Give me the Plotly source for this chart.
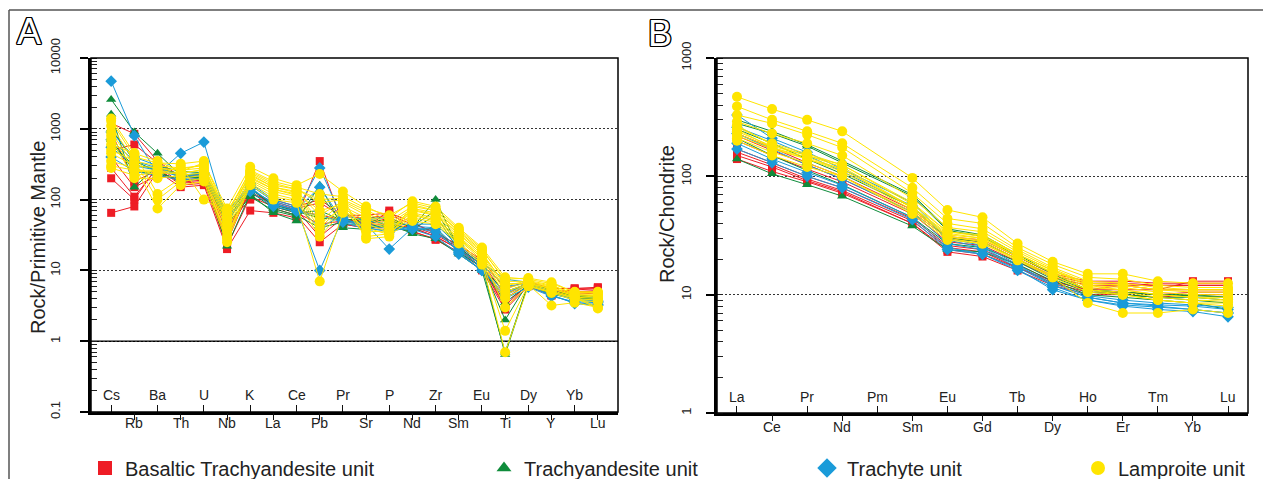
import math
import plotly.graph_objects as go

# ---------------- data ----------------
pm_elements = ["Cs", "Rb", "Ba", "Th", "U", "Nb", "K", "La", "Ce", "Pb", "Pr",
               "Sr", "P", "Nd", "Zr", "Sm", "Eu", "Ti", "Dy", "Y", "Yb", "Lu"]
ree_elements = ["La", "Ce", "Pr", "Nd", "Pm", "Sm", "Eu", "Gd", "Tb", "Dy",
                "Ho", "Er", "Tm", "Yb", "Lu"]

group_names = ["Basaltic Trachyandesite unit", "Trachyandesite unit",
               "Trachyte unit", "Lamproite unit"]

# Primitive-mantle normalised (panel A)
pm_basaltic = [
    [65, 80, 250, 150, 160, 20, 70, 65, 55, 350, 45, 40, 70, 35, 28, 18, 11, 3.0, 6.0, 4.5, 5.5, 5.8],
    [200, 100, 300, 170, 180, 22, 110, 80, 65, 45, 50, 45, 55, 40, 30, 20, 12, 4.0, 6.5, 5.0, 5.3, 5.5],
    [280, 110, 280, 160, 170, 30, 130, 85, 70, 60, 52, 50, 50, 42, 32, 21, 12, 3.5, 6.2, 4.8, 5.0, 5.2],
    [400, 150, 220, 190, 200, 35, 140, 90, 72, 30, 55, 45, 45, 40, 30, 20, 11, 3.2, 6.3, 4.6, 4.8, 5.0],
    [500, 600, 330, 200, 220, 40, 120, 95, 75, 90, 58, 55, 60, 45, 35, 22, 13, 4.5, 6.8, 5.2, 5.0, 5.0],
    [900, 180, 260, 175, 190, 25, 150, 75, 60, 25, 45, 40, 40, 36, 27, 18, 10, 2.8, 6.0, 4.4, 4.6, 4.8],
    [1200, 850, 350, 210, 230, 45, 100, 100, 80, 100, 60, 60, 65, 48, 33, 23, 14, 5.5, 7.0, 5.5, 5.6, 5.6],
]
pm_trachyandesite = [
    [2600, 900, 450, 220, 200, 22, 120, 65, 50, 160, 40, 38, 45, 33, 28, 17, 10, 0.7, 6.5, 5.0, 4.5, 4.3],
    [1600, 150, 300, 250, 240, 60, 150, 80, 65, 70, 50, 55, 55, 40, 100, 20, 12, 2.0, 6.8, 5.2, 4.3, 4.2],
    [1000, 350, 250, 180, 200, 50, 130, 75, 60, 40, 48, 50, 45, 38, 60, 19, 11, 5.0, 6.5, 4.8, 4.2, 4.0],
    [700, 250, 230, 200, 210, 45, 110, 70, 58, 120, 45, 45, 40, 36, 40, 18, 11, 3.5, 6.2, 4.6, 4.0, 3.9],
    [600, 300, 280, 230, 220, 55, 140, 85, 68, 55, 52, 52, 50, 42, 70, 21, 12, 0.65, 6.4, 4.7, 4.1, 4.0],
]
pm_trachyte = [
    [4700, 800, 230, 450, 650, 50, 140, 90, 70, 280, 52, 45, 20, 40, 35, 19, 11, 4.0, 5.8, 4.3, 3.6, 3.5],
    [900, 400, 300, 200, 220, 60, 160, 95, 75, 10, 55, 40, 35, 42, 40, 20, 12, 6.0, 6.5, 4.8, 3.8, 3.6],
    [700, 350, 280, 220, 240, 65, 170, 100, 80, 40, 60, 50, 45, 45, 45, 22, 13, 7.5, 6.8, 5.0, 3.9, 3.7],
    [550, 300, 260, 210, 230, 70, 150, 85, 72, 150, 50, 42, 40, 40, 38, 18, 10, 5.0, 6.0, 4.5, 3.4, 3.2],
    [400, 250, 220, 190, 200, 55, 130, 80, 68, 60, 48, 38, 38, 38, 30, 17, 10, 4.5, 6.2, 4.4, 3.5, 3.3],
]
pm_lamproite = [
    [1400, 450, 350, 250, 330, 75, 290, 200, 160, 230, 130, 80, 55, 95, 80, 40, 21, 8.0, 7.5, 6.5, 5.0, 5.0],
    [1300, 400, 330, 320, 350, 60, 260, 180, 150, 120, 110, 75, 60, 90, 75, 38, 20, 7.0, 7.0, 6.0, 4.8, 4.8],
    [1100, 350, 300, 280, 300, 50, 240, 160, 140, 90, 100, 70, 50, 80, 70, 35, 18, 6.0, 7.2, 6.2, 4.6, 4.6],
    [900, 300, 280, 260, 280, 45, 220, 150, 130, 60, 95, 65, 45, 75, 65, 33, 17, 5.5, 6.8, 5.8, 4.5, 4.4],
    [800, 250, 250, 240, 260, 40, 200, 140, 120, 50, 90, 60, 42, 70, 60, 30, 16, 5.0, 6.5, 5.5, 4.4, 4.2],
    [700, 200, 200, 220, 240, 35, 190, 130, 110, 40, 80, 55, 40, 65, 55, 28, 15, 4.5, 6.4, 5.2, 4.2, 4.0],
    [600, 450, 120, 200, 220, 30, 180, 120, 100, 35, 75, 50, 38, 60, 50, 27, 14, 1.4, 6.2, 5.0, 4.0, 3.8],
    [500, 350, 100, 180, 200, 28, 170, 110, 95, 30, 70, 45, 35, 55, 48, 25, 13, 0.7, 6.0, 4.8, 3.8, 3.6],
    [450, 300, 75, 160, 180, 25, 160, 100, 90, 7, 65, 40, 32, 50, 45, 24, 12, 4.0, 6.3, 3.2, 3.5, 3.0],
    [350, 280, 220, 300, 100, 65, 250, 170, 140, 100, 105, 28, 30, 85, 70, 36, 19, 7.5, 7.8, 6.8, 4.9, 4.9],
    [300, 260, 260, 270, 310, 55, 230, 150, 125, 70, 85, 35, 36, 72, 62, 32, 17, 6.5, 6.6, 5.6, 4.3, 3.0],
    [280, 220, 240, 230, 270, 70, 210, 140, 115, 45, 78, 30, 33, 62, 52, 29, 15, 3.0, 6.0, 5.0, 4.1, 2.9],
]

# Chondrite normalised REE (panel B); Pm not analysed
ree_basaltic = [
    [140, 110, 90, 72, None, 40, 24, 22, 17, 13, 11, 12, 11, 13, 13],
    [200, 150, 115, 90, None, 48, 28, 26, 19, 14, 12, 12, 12, 12, 12],
    [170, 130, 100, 80, None, 44, 26, 24, 18, 13, 11, 11, 11, 11, 11],
    [160, 125, 95, 76, None, 42, 25, 23, 17, 12.5, 10.5, 10.5, 10, 10.5, 10.5],
    [220, 165, 125, 95, None, 50, 30, 28, 20, 14.5, 12.5, 12.5, 12, 12, 12],
    [150, 120, 92, 74, None, 40, 23, 21, 16, 12, 10, 10, 9.5, 10, 10],
    [230, 175, 130, 100, None, 52, 31, 29, 21, 15, 13, 13, 12.5, 12.5, 12.5],
]
ree_trachyandesite = [
    [140, 105, 85, 68, None, 38, 24, 23, 18, 13, 10, 9.5, 9, 8.5, 7.5],
    [300, 240, 185, 135, None, 70, 36, 32, 22, 15, 11, 10.5, 10, 10, 9.5],
    [280, 230, 180, 130, None, 68, 35, 31, 21, 15, 11, 10, 9.5, 9, 8.5],
    [210, 150, 112, 85, None, 45, 27, 25, 19, 13.5, 10.5, 10, 9.5, 9.5, 9],
    [250, 190, 140, 105, None, 55, 30, 28, 20, 14, 11, 10.5, 10, 9.8, 9.5],
]
ree_trachyte = [
    [330, 210, 160, 115, None, 60, 30, 26, 18, 12, 9.5, 8.5, 8, 7.5, 7],
    [170, 130, 100, 80, None, 43, 24, 22, 16, 11.5, 9, 8, 7.5, 7.2, 6.5],
    [190, 140, 108, 84, None, 45, 25, 22, 16.5, 11, 9, 8.2, 7.8, 7.5, 7],
    [230, 170, 125, 95, None, 50, 27, 24, 17, 12, 9.5, 8.5, 8.2, 8, 7.5],
    [260, 200, 150, 110, None, 56, 29, 25, 17.5, 12.5, 9.8, 9, 8.5, 8.2, 7.8],
]
ree_lamproite = [
    [470, 370, 300, 240, None, 97, 52, 45, 27, 19, 15, 15, 13, 12.5, 12.5],
    [390, 300, 240, 190, None, 80, 44, 40, 25, 18, 14, 13.5, 12, 11.5, 11.5],
    [330, 280, 225, 175, None, 72, 40, 36, 24, 17, 13, 12.5, 11.5, 11, 11],
    [290, 230, 190, 150, None, 65, 37, 34, 23, 16.5, 12.5, 12, 11, 10.5, 10.5],
    [270, 185, 150, 125, None, 60, 34, 32, 22, 16, 12, 11.5, 10.5, 10, 10],
    [250, 175, 140, 115, None, 55, 32, 30, 21, 15.5, 11.5, 11, 10, 9.5, 9.5],
    [240, 180, 150, 120, None, 55, 33, 30, 22, 16, 12, 11, 10, 9.5, 9],
    [220, 170, 140, 110, None, 52, 31, 29, 21, 15, 11, 10, 9, 8.5, 8.5],
    [210, 160, 130, 100, None, 50, 30, 27, 20, 14, 8.5, 7, 7, 7.5, 7],
    [260, 190, 155, 125, None, 58, 34, 31, 22, 16, 12.5, 12, 11, 11, 11],
    [230, 175, 145, 115, None, 54, 31, 28, 20, 14.5, 11, 10.5, 9.5, 9, 8.8],
    [200, 150, 120, 100, None, 48, 29, 27, 19.5, 14, 10.5, 10, 9, 8.5, 8],
]

pm_y_ticks = [0.1, 1, 10, 100, 1000, 10000]
ree_y_ticks = [1, 10, 100, 1000]

# ---------------- styling ----------------
colors = ["#ee1c25", "#0f8c3b", "#1a9bd9", "#ffe500"]
symbols = ["square", "triangle-up", "diamond", "circle"]
msizes = [8, 9, 9, 10]
FONT = "Liberation Sans, Arial, sans-serif"
NARROW = "Liberation Sans Narrow, Arial Narrow, Liberation Sans, Arial, sans-serif"

fig = go.Figure()

pm_groups = [pm_basaltic, pm_trachyandesite, pm_trachyte, pm_lamproite]
ree_groups = [ree_basaltic, ree_trachyandesite, ree_trachyte, ree_lamproite]

for gi, grp in enumerate(pm_groups):
    xa = "x3" if gi == 3 else "x"
    for vals in grp:
        fig.add_trace(go.Scatter(
            x=pm_elements, y=vals, xaxis=xa, yaxis="y", mode="lines+markers",
            line=dict(color=colors[gi], width=1),
            marker=dict(symbol=symbols[gi], size=msizes[gi], color=colors[gi]),
            showlegend=False, hoverinfo="skip"))

for gi, grp in enumerate(ree_groups):
    xa = "x4" if gi == 3 else "x2"
    for vals in grp:
        fig.add_trace(go.Scatter(
            x=ree_elements, y=vals, xaxis=xa, yaxis="y2", mode="lines+markers",
            connectgaps=True,
            line=dict(color=colors[gi], width=1),
            marker=dict(symbol=symbols[gi], size=msizes[gi], color=colors[gi]),
            showlegend=False, hoverinfo="skip"))

# legend-only entries, one legend per unit
legend_ids = ["legend", "legend2", "legend3", "legend4"]
legend_sizes = [14, 13, 15, 14]
for gi, name in enumerate(group_names):
    fig.add_trace(go.Scatter(
        x=[None], y=[None], mode="markers", name=name, legend=legend_ids[gi],
        marker=dict(symbol=symbols[gi], size=legend_sizes[gi], color=colors[gi]),
        showlegend=True, xaxis="x", yaxis="y"))

W, H = 1263, 479
def px(v):
    return v / W
def py(v):
    return 1 - v / H

xdomA = [px(91), px(618)]
ydomA = [py(412), py(58)]
xdomB = [px(717), px(1248)]
ydomB = [py(413), py(58)]

rangeA = [-0.87, len(pm_elements) - 1 + 0.87]
rangeB = [-0.57, len(ree_elements) - 1 + 0.57]

def xaxis_main(dom, elems, rng, anchor):
    return dict(domain=dom, anchor=anchor, type="category", automargin=False,
                categoryorder="array", categoryarray=elems, range=rng,
                tickmode="array", tickvals=elems[0::2], ticks="inside",
                ticklen=7, tickwidth=1.2, tickcolor="#111",
                showticklabels=False, showgrid=False, zeroline=False,
                showline=True, linewidth=2.5, linecolor="#000", fixedrange=True)

def xaxis_over(over, elems, rng, anchor):
    return dict(overlaying=over, anchor=anchor, type="category", automargin=False,
                categoryorder="array", categoryarray=elems, range=rng,
                tickmode="array", tickvals=elems[1::2], ticks="outside",
                ticklen=7, tickwidth=1.2, tickcolor="#111",
                showticklabels=False, showgrid=False, zeroline=False,
                showline=False, fixedrange=True)

def yaxis_log(dom, ticks, anchor, standoff):
    return dict(domain=dom, anchor=anchor, type="log", automargin=False,
                range=[math.log10(ticks[0]), math.log10(ticks[-1])],
                tickmode="array", tickvals=ticks,
                ticktext=[("%g" % t) for t in ticks],
                tickangle=-90, ticks="outside", ticklen=8, tickwidth=1.5,
                tickcolor="#000", ticklabelstandoff=standoff,
                tickfont=dict(family=NARROW, size=13, color="#222"),
                showgrid=True, gridcolor="#333", gridwidth=1, griddash="2px,2px",
                minor=dict(ticks="inside", ticklen=6, tickwidth=1,
                           tickcolor="#222", dtick="D1", showgrid=False),
                zeroline=False, showline=True, linewidth=2.5, linecolor="#000",
                fixedrange=True)

fig.update_layout(
    width=W, height=H, margin=dict(l=0, r=0, t=0, b=0, autoexpand=False),
    paper_bgcolor="white", plot_bgcolor="white",
    font=dict(family=FONT, color="#222"),
    xaxis=xaxis_main(xdomA, pm_elements, rangeA, "y"),
    xaxis3=xaxis_over("x", pm_elements, rangeA, "y"),
    yaxis=yaxis_log(ydomA, pm_y_ticks, "x", 15),
    xaxis2=xaxis_main(xdomB, ree_elements, rangeB, "y2"),
    xaxis4=xaxis_over("x2", ree_elements, rangeB, "y2"),
    yaxis2=yaxis_log(ydomB, ree_y_ticks, "x2", 10),
    showlegend=True,
)

legend_x = [85, 484, 807, 1078]
for gi, lid in enumerate(legend_ids):
    fig.update_layout({lid: dict(
        x=px(legend_x[gi]), y=py(468), xanchor="left", yanchor="middle",
        orientation="h", bgcolor="rgba(0,0,0,0)", borderwidth=0,
        font=dict(family=FONT, size=20, color="#222"),
        itemsizing="trace", itemwidth=30)})

annotations = []
# staggered category labels
for i, el in enumerate(pm_elements):
    annotations.append(dict(x=el, xref="x", y=py(395) if i % 2 == 0 else py(423),
                            yref="paper", text=el, showarrow=False,
                            xanchor="center", yanchor="middle",
                            font=dict(family=FONT, size=14, color="#222")))
for i, el in enumerate(ree_elements):
    annotations.append(dict(x=el, xref="x2", y=py(397) if i % 2 == 0 else py(427),
                            yref="paper", text=el, showarrow=False,
                            xanchor="center", yanchor="middle",
                            font=dict(family=FONT, size=14, color="#222")))
# axis titles
annotations.append(dict(x=px(38), y=py(238), xref="paper", yref="paper",
                        text="Rock/Primitive Mantle", textangle=-90, showarrow=False,
                        xanchor="center", yanchor="middle",
                        font=dict(family=FONT, size=20, color="#222")))
annotations.append(dict(x=px(667), y=py(214), xref="paper", yref="paper",
                        text="Rock/Chondrite", textangle=-90, showarrow=False,
                        xanchor="center", yanchor="middle",
                        font=dict(family=FONT, size=20, color="#222")))
# panel letters (outlined)
outline = ("1.3px 0 0 #000, -1.3px 0 0 #000, 0 1.3px 0 #000, 0 -1.3px 0 #000, "
           "1px 1px 0 #000, -1px -1px 0 #000, 1px -1px 0 #000, -1px 1px 0 #000")
for letter, cx, cy in [("A", 29, 31), ("B", 660, 33)]:
    annotations.append(dict(x=px(cx), y=py(cy), xref="paper", yref="paper",
                            text=letter, showarrow=False, xanchor="center",
                            yanchor="middle",
                            font=dict(family=FONT, size=36, color="white",
                                      shadow=outline)))
fig.update_layout(annotations=annotations)

shapes = [
    # plot frames
    dict(type="rect", xref="x domain", yref="y domain", x0=0, x1=1, y0=0, y1=1,
         line=dict(color="#000", width=1.5), layer="above"),
    dict(type="rect", xref="x2 domain", yref="y2 domain", x0=0, x1=1, y0=0, y1=1,
         line=dict(color="#000", width=1.5), layer="above"),
    # reference line at 1 in panel A
    dict(type="line", xref="x domain", yref="y", x0=0, x1=1, y0=1, y1=1,
         line=dict(color="#000", width=1.5), layer="below"),
    # outer figure border (top and left)
    dict(type="line", xref="paper", yref="paper", x0=px(9), x1=1, y0=py(10), y1=py(10),
         line=dict(color="#555", width=1.5)),
    dict(type="line", xref="paper", yref="paper", x0=px(9), x1=px(9), y0=py(10), y1=0,
         line=dict(color="#555", width=1.5)),
]
fig.update_layout(shapes=shapes)

fig.write_html("out.html")
